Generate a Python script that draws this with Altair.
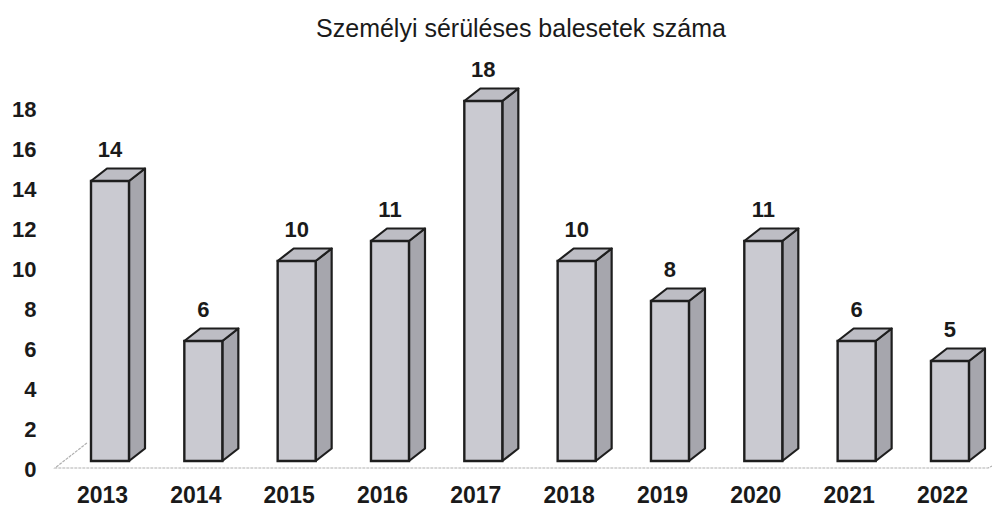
import altair as alt
import pandas as pd

years = ["2013", "2014", "2015", "2016", "2017", "2018", "2019", "2020", "2021", "2022"]
values = [14, 6, 10, 11, 18, 10, 8, 11, 6, 5]
y_ticks = [0, 2, 4, 6, 8, 10, 12, 14, 16, 18]
title_text = "Személyi sérüléses balesetek száma"

# geometry (style) constants
SLOT_PX = 93.33      # pixels per category slot
UNIT_PX = 20.0       # pixels per value unit
HW = 19 / SLOT_PX    # half width of bar front
DX = 16 / SLOT_PX    # depth offset x
DY = 12.5 / UNIT_PX  # depth offset y
PLOT_W = 942
PLOT_H = 420
PAD_L = 42
PAD_T = 53
PAD_B = 29
X_MIN = -60 / SLOT_PX
X_MAX = X_MIN + PLOT_W / SLOT_PX
Y_MIN, Y_MAX = -1, 20
FONT = "Liberation Sans"

idx = list(range(len(years)))
front = pd.DataFrame({"i": idx, "year": years, "v": values})
front["xl"] = front["i"] - HW
front["xr"] = front["i"] + HW

side_rows = []
top_rows = []
for i, y, v in zip(idx, years, values):
    xl, xr = i - HW, i + HW
    # side face (parallelogram, vertical area)
    side_rows.append({"bar": y, "px": xr, "lo": 0.0, "hi": float(v)})
    side_rows.append({"bar": y, "px": xr + DX, "lo": DY, "hi": v + DY})
    # top face (parallelogram traced as a vertical area)
    top_rows.append({"bar": y, "px": xl, "lo": float(v), "hi": float(v)})
    top_rows.append({"bar": y, "px": xl + DX, "lo": float(v), "hi": v + DY})
    top_rows.append({"bar": y, "px": xr, "lo": float(v), "hi": v + DY})
    top_rows.append({"bar": y, "px": xr + DX, "lo": v + DY, "hi": v + DY})
side = pd.DataFrame(side_rows)
top = pd.DataFrame(top_rows)

# floor outline
fl_left = -0.59
fl_right = len(years) - 1 + 0.41
floor = pd.DataFrame({
    "px": [fl_left + 2 * DX, fl_left, fl_right, fl_right + 2.2 * DX],
    "lo": [0.9, -0.35, -0.35, 0.55],
    "k": [0, 1, 2, 3],
})

xs = alt.Scale(domain=[X_MIN, X_MAX], nice=False, zero=False)
ys = alt.Scale(domain=[Y_MIN, Y_MAX], nice=False, zero=False)

label_expr = "[" + ",".join("'" + y + "'" for y in years) + "][datum.value]"

x_axis = alt.Axis(values=idx, labelExpr=label_expr, title=None, grid=False, domain=False,
                  ticks=False, labelFont=FONT, labelFontSize=23, labelFontWeight="bold",
                  labelColor="#1a1a1a", labelPadding=3, labelOffset=-8)
y_axis = alt.Axis(values=y_ticks, title=None, grid=False, domain=False, ticks=False,
                  labelFont=FONT, labelFontSize=22, labelFontWeight="bold",
                  labelColor="#1a1a1a", labelPadding=14, labelOffset=8)


def X(field):
    return alt.X(field, type="quantitative", scale=xs, axis=x_axis, stack=None)


def Y(field):
    return alt.Y(field, type="quantitative", scale=ys, axis=y_axis, stack=None)


floor_layer = alt.Chart(floor).mark_line(color="#b0b0b0", strokeWidth=1.2, strokeDash=[3, 1]).encode(
    x=X("px"), y=Y("lo"), order="k:Q",
)

side_layer = alt.Chart(side).mark_area(fill="#a6a6ad", stroke="#1e1e1e", strokeWidth=2.2,
                                        strokeJoin="round", fillOpacity=1).encode(
    x=X("px"), y=Y("lo"), y2="hi:Q", detail="bar:N",
)

top_layer = alt.Chart(top).mark_area(fill="#bdbdc4", stroke="#1e1e1e", strokeWidth=2.2,
                                      strokeJoin="round", fillOpacity=1).encode(
    x=X("px"), y=Y("lo"), y2="hi:Q", detail="bar:N",
)

front_layer = alt.Chart(front).mark_rect(fill="#cacad1", stroke="#1e1e1e", strokeWidth=2.4).encode(
    x=X("xl"), x2="xr:Q", y=Y("v"), y2=alt.Y2(datum=0),
)

labels = alt.Chart(front).mark_text(font=FONT, fontSize=22, fontWeight="bold", color="#1a1a1a",
                                     dy=-31, baseline="middle").encode(
    x=X("i"), y=Y("v"), text="v:Q",
)

chart = alt.layer(floor_layer, side_layer, top_layer, front_layer, labels).properties(
    width=PLOT_W,
    height=PLOT_H,
    autosize=alt.AutoSizeParams(type="none"),
    padding={"left": PAD_L, "top": PAD_T, "right": 0, "bottom": PAD_B},
    title=alt.Title(title_text, font=FONT, fontSize=25, fontWeight="normal", color="#1a1a1a",
                    anchor="middle", offset=17),
).configure(background="white").configure_view(stroke="transparent", strokeWidth=0)

chart.save("out.html", embed_options={"renderer": "svg", "actions": False})
